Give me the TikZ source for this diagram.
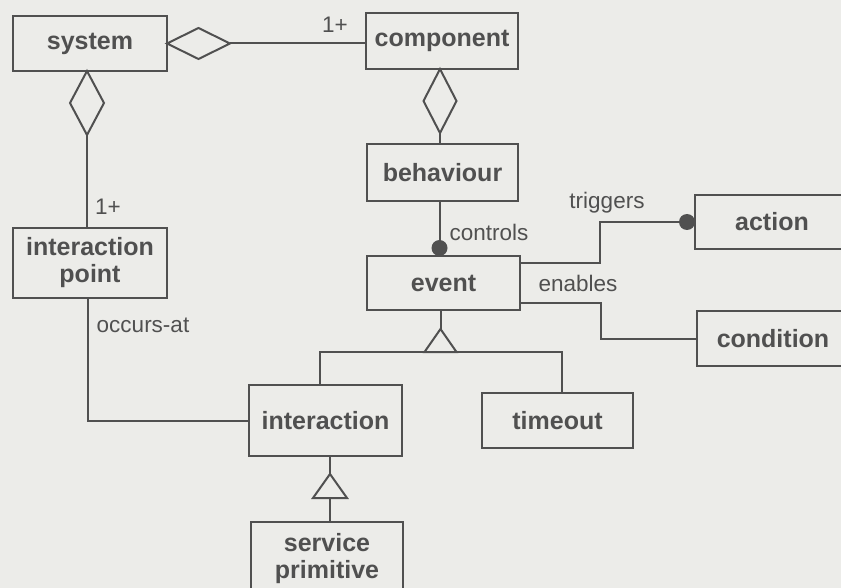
\documentclass[tikz,border=0pt]{standalone}
\usepackage{fontspec}
\setmainfont{Liberation Sans}
\definecolor{bg}{RGB}{236,236,233}
\definecolor{ink}{RGB}{80,80,80}
\begin{document}
\begin{tikzpicture}[x=1pt,y=-1pt,
  box/.style={draw=ink, line width=2pt, inner sep=0pt, outer sep=0pt, align=center,
    text=ink, font=\bfseries\fontsize{25}{27}\selectfont},
  lbl/.style={text=ink, inner sep=0pt, font=\fontsize{22.5}{24}\selectfont},
  conn/.style={draw=ink, line width=2pt, line join=miter}]
\fill[bg] (0,0) rectangle (841,588);
\useasboundingbox (0,0) rectangle (841,588);

\node[box, minimum width=154pt, minimum height=55pt] (system) at (90,43.5) {system};
\node[box, minimum width=152pt, minimum height=56pt] (component) at (442,41) {component};
\node[box, minimum width=151pt, minimum height=57pt] (behaviour) at (442.5,172.5) {behaviour};
\node[box, minimum width=153pt, minimum height=54pt] (event) at (443.5,283) {event};
\node[box, minimum width=154pt, minimum height=70pt] (ip) at (90,263) {interaction\\point};
\node[box, minimum width=154pt, minimum height=54pt] (action) at (772,222) {action};
\node[box, minimum width=152pt, minimum height=55pt] (condition) at (773,338.5) {condition};
\node[box, minimum width=153pt, minimum height=71pt] (interaction) at (325.5,420.5) {interaction};
\node[box, minimum width=151pt, minimum height=55pt] (timeout) at (557.5,420.5) {timeout};
\node[box, minimum width=152pt, minimum height=74pt] (service) at (327,559) {service\\primitive};

% system -- component aggregation
\draw[conn] (system.east) -- ++(31.5,-15.5) -- ++(31.5,15.5) coordinate (d1) -- ++(-31.5,15.5) -- cycle;
\draw[conn] (d1) -- (component.west |- d1);
\node[lbl] (m1) at (335,25) {1+};

% system -- interaction point aggregation
\draw[conn] ([xshift=-3pt]system.south) -- ++(17,32) -- ++(-17,32) coordinate (d2) -- ++(-17,-32) -- cycle;
\draw[conn] (d2) -- (ip.north -| d2);
\node[lbl] (m2) at (108,207) {1+};

% component -- behaviour aggregation
\draw[conn] ([xshift=-2pt]component.south) -- ++(16.5,32) -- ++(-16.5,32) coordinate (d3) -- ++(-16.5,-32) -- cycle;
\draw[conn] (d3) -- (behaviour.north -| d3);

% behaviour -- event (controls)
\coordinate (ce) at ([xshift=-4pt]event.north);
\draw[conn] (behaviour.south -| ce) -- (ce);
\fill[ink] ([xshift=-4pt,yshift=8pt]event.north) circle (8pt);
\node[lbl] (controls) at (489,232) {controls};

% event -- action (triggers)
\draw[conn] ([yshift=20pt]event.east) -- ++(80,0) |- (action.west);
\fill[ink] ([xshift=-8pt]action.west) circle (8pt);
\node[lbl] (triggers) at (607,203) {triggers};

% event -- condition (enables)
\draw[conn] ([yshift=-20pt]event.east) -- ++(81,0) |- (condition.west);
\node[lbl] (enables) at (578,283) {enables};

% interaction point -- interaction (occurs-at)
\draw[conn] ([xshift=-2pt]ip.south) |- (interaction.west);
\node[lbl] (occurs) at (143,325) {occurs-at};

% event generalization
\draw[conn] ([xshift=-3pt]event.south) -- ++(0,19) coordinate (ta);
\draw[conn] (ta) -- ++(-16,23) -- ++(32,0) -- cycle;
\coordinate (tb) at ([xshift=-3pt,yshift=-42pt]event.south);
\coordinate (it) at ([xshift=-5.5pt]interaction.north);
\coordinate (tt) at ([xshift=4.5pt]timeout.north);
\draw[conn] (it) |- (tt |- tb) -- (tt);

% interaction generalization
\draw[conn] ([xshift=3pt]service.north) -- ++(0,-24) coordinate (sb);
\draw[conn] (sb) -- ++(-17,0) -- ++(17,-24) coordinate (sa) -- ++(17,24) -- cycle;
\draw[conn] (sa) -- (interaction.south -| sa);
\end{tikzpicture}
\end{document}
